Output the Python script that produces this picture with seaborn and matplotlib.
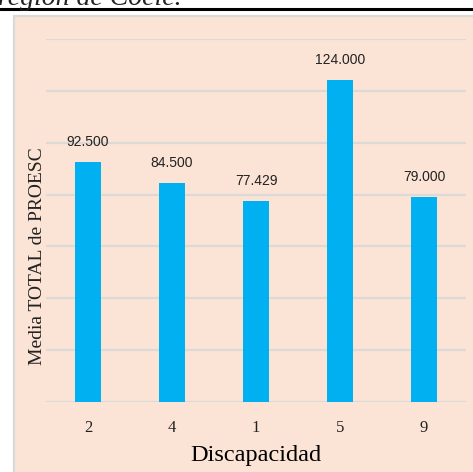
import matplotlib
matplotlib.use("Agg")
import matplotlib.pyplot as plt
from matplotlib.patches import Rectangle
from matplotlib.lines import Line2D
import seaborn as sns
import pandas as pd

# Mean PROESC total score by disability group
categories = ["2", "4", "1", "5", "9"]
means = [92.5, 84.5, 77.429, 124.0, 79.0]
value_labels = ["92.500", "84.500", "77.429", "124.000", "79.000"]

df = pd.DataFrame({"Discapacidad": categories, "Media": means})

sns.set_theme(style="white")
W, H = 473, 472
fig = plt.figure(figsize=(W / 100, H / 100), dpi=100)
fig.patch.set_facecolor("white")

def px(x, y):
    return x / W, 1 - y / H

# Caption remnant and rule above the chart frame
fig.text(px(-2, 0)[0], px(0, 5)[1], "región de Coclé.", fontsize=20,
         family="Liberation Serif", style="italic", color="#222222",
         ha="left", va="baseline")
fig.add_artist(Line2D([0, 1], [px(0, 8.8)[1]] * 2, transform=fig.transFigure,
                      color="black", lw=2.2))

# Chart frame with peach fill, drawn beneath the axes
x0, y0 = px(13.5, 16)
frame = Rectangle((x0, -0.05), 1.1, y0 + 0.05, transform=fig.transFigure,
                  facecolor="#FBE4D5", edgecolor="#D9D9D9", lw=1.6, zorder=-10)
fig.add_artist(frame)

left, top = px(46, 39)
right, bottom = px(466, 402)
ax = fig.add_axes([left, bottom, right - left, top - bottom])
ax.set_facecolor("none")
ax.set_zorder(2)

sns.barplot(data=df, x="Discapacidad", y="Media", order=categories,
            color="#00B0F0", width=0.3, saturation=1, linewidth=0,
            ax=ax, zorder=3)

ax.set_ylim(0, 140)
ax.set_yticks(range(0, 141, 20))
ax.set_yticklabels([])
ax.tick_params(axis="y", length=0)
ax.tick_params(axis="x", length=0, pad=13)
ax.yaxis.grid(True, color="#DCDAD6", lw=1.6, zorder=0)
ax.set_axisbelow(True)
for s in ax.spines.values():
    s.set_visible(False)

for lab in ax.get_xticklabels():
    lab.set_family("Liberation Serif")
    lab.set_fontsize(12)
    lab.set_color("#222222")

for i, (v, t) in enumerate(zip(means, value_labels)):
    ax.annotate(t, (i, v), xytext=(0, 13), textcoords="offset pixels",
                ha="center", va="bottom", fontsize=10,
                family="Liberation Sans", color="#222222")

ax.set_xlabel("Discapacidad", family="Liberation Serif", fontsize=17.5,
              color="black", va="center")
ax.xaxis.set_label_coords(0.5, (402 - 455) / 363)
ax.set_ylabel("Media TOTAL de PROESC", family="Liberation Serif", fontsize=14,
              color="#222222", va="center")
ax.yaxis.set_label_coords((37.5 - 46) / 420, (402 - 256) / 363)

fig.savefig("out.png", dpi=100)
